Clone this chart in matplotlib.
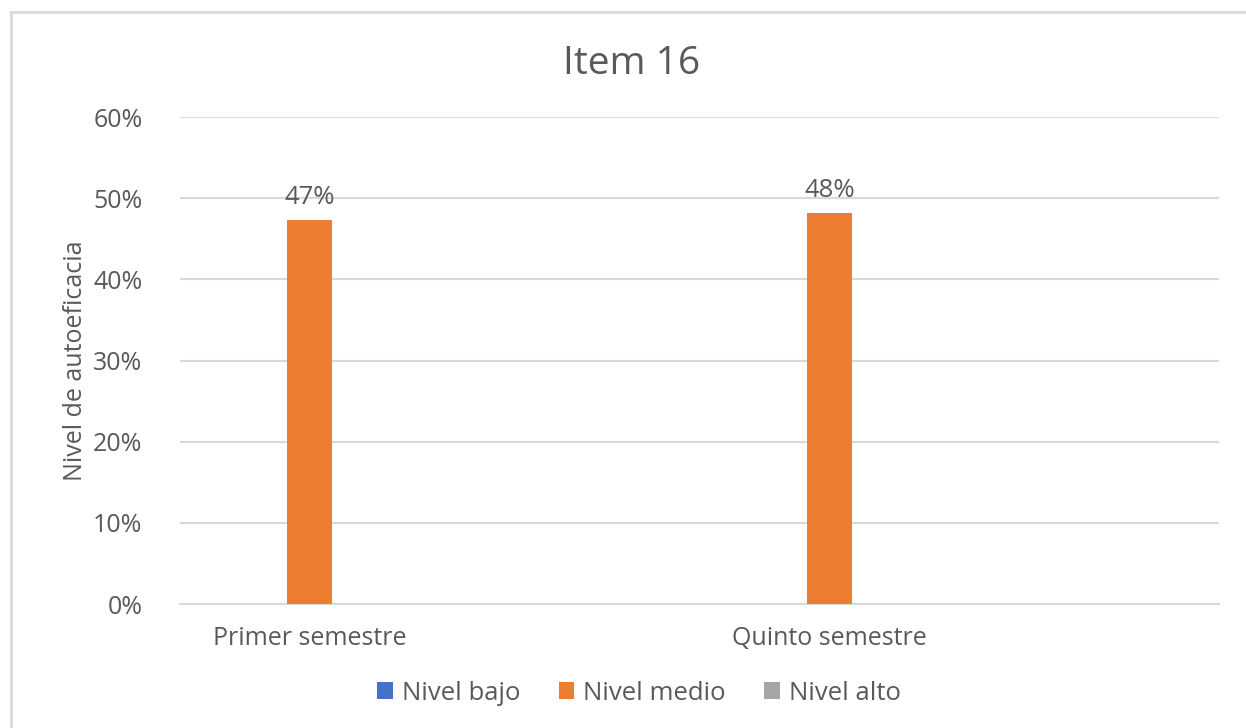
import matplotlib
matplotlib.use("Agg")
import matplotlib.pyplot as plt
import numpy as np
from matplotlib.lines import Line2D

plt.rcParams['font.family'] = ['Open Sans', 'DejaVu Sans']

categories = ["Primer semestre", "", "Quinto semestre", ""]
series_names = ["Nivel bajo", "Nivel medio", "Nivel alto"]
nivel_bajo = [0.0, 0.0, 0.0, 0.0]
nivel_medio = [0.473, 0.0, 0.482, 0.0]
nivel_alto = [0.0, 0.0, 0.0, 0.0]
colors = ["#4472C4", "#ED7D31", "#A5A5A5"]
yticks = [0, 0.1, 0.2, 0.3, 0.4, 0.5, 0.6]
ytick_labels = ["0%", "10%", "20%", "30%", "40%", "50%", "60%"]

text_color = "#595959"
grid_color = "#D9D9D9"

fig = plt.figure(figsize=(12.46, 7.28), dpi=100)
ax = fig.add_axes([180/1246, 1-604/728, (1219-180)/1246, (604-117)/728])

x = np.arange(len(categories))
w = 0.173
all_series = [nivel_bajo, nivel_medio, nivel_alto]
handles = []
for i, (vals, name, c) in enumerate(zip(all_series, series_names, colors)):
    bars = ax.bar(x + (i - 1) * w, vals, width=w, color=c, label=name, zorder=3)
    handles.append(bars)
    if name == "Nivel medio":
        for xi, v in zip(x, vals):
            if v > 0:
                ax.text(xi + (i - 1) * w, v + 0.012, f"{round(v*100):.0f}%",
                        ha="center", va="bottom", fontsize=18.5, color=text_color)

ax.set_xlim(-0.5, len(categories) - 0.5)
ax.set_ylim(0, 0.6)
ax.set_yticks(yticks)
ax.set_yticklabels(ytick_labels)
ax.set_xticks(x)
ax.set_xticklabels(categories)
ax.tick_params(axis='both', length=0, labelsize=18, colors=text_color)
ax.tick_params(axis='y', pad=27)
ax.tick_params(axis='x', pad=16)
ax.yaxis.grid(True, color=grid_color, linewidth=1.5, zorder=0)
for s in ["top", "right", "left"]:
    ax.spines[s].set_visible(False)
ax.spines["bottom"].set_color(grid_color)
ax.spines["bottom"].set_linewidth(1.5)

ax.set_ylabel("Nivel de autoeficacia", fontsize=18, color=text_color)
ax.yaxis.set_label_coords(-92/1039, 0.5)

fig.text(632/1246, 1-64/728, "Item 16", ha="center", va="center", fontsize=28, color=text_color)

leg = fig.legend(handles=handles, labels=series_names, loc="center", bbox_to_anchor=(639/1246, 1-693/728),
                 ncol=3, frameon=False, fontsize=18.5, handlelength=0.6, handleheight=0.6,
                 handletextpad=0.35, columnspacing=1.5, labelcolor=text_color)

# partial border (left and top edges, as in the reference)
fig.add_artist(Line2D([11/1246, 11/1246], [0, 1-12/728], transform=fig.transFigure, color="#D9D9D9", linewidth=2))
fig.add_artist(Line2D([11/1246, 1], [1-12/728, 1-12/728], transform=fig.transFigure, color="#D9D9D9", linewidth=2))

fig.savefig("out.png", dpi=100)
